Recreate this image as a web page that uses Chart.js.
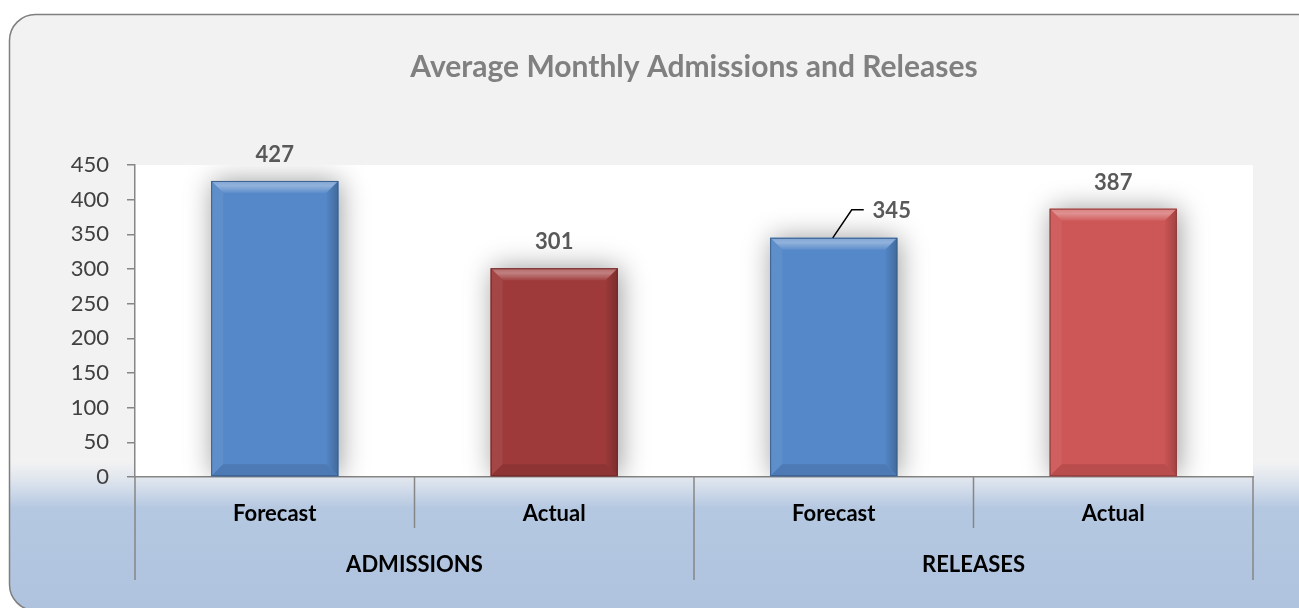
<!DOCTYPE html>
<html>
<head>
<meta charset="utf-8">
<script src="https://cdn.jsdelivr.net/npm/chart.js@4.4.1/dist/chart.umd.min.js"></script>
<style>
  html, body { margin: 0; padding: 0; background: #ffffff; }
  #chart { display: block; }
</style>
</head>
<body>
<canvas id="chart" width="1299" height="608"></canvas>
<script>
// Average Monthly Admissions and Releases - bar chart with two-level category axis

const chartTitle = 'Average Monthly Admissions and Releases';
const groups = ['ADMISSIONS', 'RELEASES'];
const groupSizes = [2, 2];
const categories = ['Forecast', 'Actual', 'Forecast', 'Actual'];
const values = [427, 301, 345, 387];
const yTickValues = [0, 50, 100, 150, 200, 250, 300, 350, 400, 450];

const barColors = ['#5588c8', '#9e3a3a', '#5588c8', '#cd5656'];
const FONT = 'Lato, "Open Sans", sans-serif';

// lighten / darken a hex colour
function shade(hex, amt) {
  const n = parseInt(hex.slice(1), 16);
  let r = (n >> 16) & 255, g = (n >> 8) & 255, b = n & 255;
  const f = c => amt >= 0 ? Math.round(c + (255 - c) * amt) : Math.round(c * (1 + amt));
  return `rgb(${f(r)},${f(g)},${f(b)})`;
}

// background panel, white plot area and title
const backgroundPlugin = {
  id: 'panel',
  beforeDraw(chart) {
    const { ctx, chartArea: a, height } = chart;
    ctx.save();
    const grad = ctx.createLinearGradient(0, 14, 0, height);
    const span = height - 14;
    grad.addColorStop(0, '#f2f2f2');
    grad.addColorStop((462 - 14) / span, '#f2f2f2');
    grad.addColorStop((480 - 14) / span, '#dfe5ee');
    grad.addColorStop((508 - 14) / span, '#b5c8e1');
    grad.addColorStop(1, '#afc3df');
    ctx.beginPath();
    ctx.roundRect(9.5, 14.5, 1320, 596, 26);
    ctx.fillStyle = grad;
    ctx.fill();
    ctx.lineWidth = 1.5;
    ctx.strokeStyle = '#7f7f7f';
    ctx.stroke();

    ctx.fillStyle = '#ffffff';
    ctx.fillRect(a.left, a.top, a.right - a.left, a.bottom - a.top);

    ctx.fillStyle = '#808080';
    ctx.font = 'bold 30px ' + FONT;
    ctx.textAlign = 'center';
    ctx.textBaseline = 'middle';
    ctx.fillText(chartTitle, (a.left + a.right) / 2, 67);
    ctx.restore();
  }
};

// soft glow behind the bars
const shadowPlugin = {
  id: 'barShadow',
  beforeDatasetDraw(chart) {
    const ctx = chart.ctx;
    ctx.save();
    ctx.shadowColor = 'rgba(0,0,0,0.4)';
    ctx.shadowBlur = 26;
    ctx.shadowOffsetX = 2;
    ctx.shadowOffsetY = 0;
  },
  afterDatasetDraw(chart) {
    chart.ctx.restore();
  }
};

// bevelled edges, value labels, category dividers and group labels
const decorPlugin = {
  id: 'decor',
  afterDatasetsDraw(chart, args, opts) {
    const { ctx, chartArea: a } = chart;
    const meta = chart.getDatasetMeta(0);
    const xs = chart.scales.x;
    const bv = 12;

    meta.data.forEach((bar, i) => {
      const w = bar.width;
      const l = bar.x - w / 2, r = bar.x + w / 2, t = bar.y, btm = bar.base;
      const c = barColors[i];
      ctx.save();
      // top bevel
      const tg = ctx.createLinearGradient(0, t, 0, t + bv);
      tg.addColorStop(0, shade(c, 0.25));
      tg.addColorStop(0.4, shade(c, 0.35));
      tg.addColorStop(1, shade(c, 0.05));
      ctx.fillStyle = tg;
      ctx.beginPath();
      ctx.moveTo(l, t); ctx.lineTo(r, t); ctx.lineTo(r - bv, t + bv); ctx.lineTo(l + bv, t + bv); ctx.closePath();
      ctx.fill();
      // left bevel
      ctx.fillStyle = shade(c, 0.06);
      ctx.beginPath();
      ctx.moveTo(l, t); ctx.lineTo(l + bv, t + bv); ctx.lineTo(l + bv, btm - bv); ctx.lineTo(l, btm); ctx.closePath();
      ctx.fill();
      // right bevel
      const rg = ctx.createLinearGradient(r - bv, 0, r, 0);
      rg.addColorStop(0, shade(c, -0.02));
      rg.addColorStop(1, shade(c, -0.22));
      ctx.fillStyle = rg;
      ctx.beginPath();
      ctx.moveTo(r, t); ctx.lineTo(r, btm); ctx.lineTo(r - bv, btm - bv); ctx.lineTo(r - bv, t + bv); ctx.closePath();
      ctx.fill();
      // bottom bevel
      ctx.fillStyle = shade(c, -0.1);
      ctx.beginPath();
      ctx.moveTo(l, btm); ctx.lineTo(r, btm); ctx.lineTo(r - bv, btm - bv); ctx.lineTo(l + bv, btm - bv); ctx.closePath();
      ctx.fill();
      // outline
      ctx.strokeStyle = shade(c, -0.3);
      ctx.lineWidth = 1;
      ctx.strokeRect(l + 0.5, t + 0.5, w - 1, btm - t - 1);
      ctx.restore();

      // value label
      const off = (opts.labelOffsets || {})[i];
      ctx.save();
      ctx.font = 'bold 22px ' + FONT;
      ctx.fillStyle = '#595959';
      ctx.textAlign = 'center';
      ctx.textBaseline = 'middle';
      if (off) {
        const lx = bar.x + off.dx, ly = t + off.dy;
        ctx.fillText(String(values[i]), lx, ly);
        ctx.strokeStyle = '#000000';
        ctx.lineWidth = 1.5;
        ctx.beginPath();
        ctx.moveTo(bar.x - 1, t);
        ctx.lineTo(bar.x + 18, t - 28);
        ctx.lineTo(bar.x + 30, t - 28);
        ctx.stroke();
      } else {
        ctx.fillText(String(values[i]), bar.x, t - 26);
      }
      ctx.restore();
    });

    // category axis dividers and group labels
    ctx.save();
    ctx.strokeStyle = '#868686';
    ctx.lineWidth = 1.5;
    const px = i => xs.getPixelForValue(i);
    const step = px(1) - px(0);
    const line = (x, y2) => { ctx.beginPath(); ctx.moveTo(x, a.bottom); ctx.lineTo(x, y2); ctx.stroke(); };
    line(a.left, 580);
    let idx = 0;
    ctx.font = 'bold 22px ' + FONT;
    ctx.fillStyle = '#000000';
    ctx.textAlign = 'center';
    ctx.textBaseline = 'middle';
    groups.forEach((g, gi) => {
      const n = groupSizes[gi];
      for (let k = 1; k < n; k++) line(px(idx + k) - step / 2, 528);
      const gx = (px(idx) + px(idx + n - 1)) / 2;
      ctx.fillText(g, gx, 565);
      idx += n;
      line(px(idx - 1) + step / 2, 580);
    });
    ctx.restore();
  }
};

new Chart(document.getElementById('chart'), {
  type: 'bar',
  data: {
    labels: categories,
    datasets: [{
      data: values,
      backgroundColor: barColors,
      borderWidth: 0,
      categoryPercentage: 1,
      barPercentage: 0.455
    }]
  },
  options: {
    responsive: false,
    animation: false,
    layout: { padding: { left: 10, right: 46, top: 165, bottom: 0 } },
    plugins: {
      legend: { display: false },
      tooltip: { enabled: false },
      title: { display: false },
      decor: { labelOffsets: { 2: { dx: 58, dy: -27 } } }
    },
    scales: {
      x: {
        offset: true,
        grid: { display: false },
        border: { display: true, color: '#868686', width: 1.5 },
        ticks: {
          color: '#000000',
          font: { family: FONT, size: 22, weight: 'bold' },
          padding: 16,
          maxRotation: 0
        },
        afterFit(scale) { scale.height = 131; }
      },
      y: {
        min: 0,
        max: 450,
        afterBuildTicks(scale) { scale.ticks = yTickValues.map(v => ({ value: v })); },
        grid: {
          drawOnChartArea: false,
          drawTicks: true,
          tickLength: 8,
          color: '#868686',
          lineWidth: 1.5
        },
        border: { display: true, color: '#868686', width: 1.5 },
        ticks: {
          color: '#404040',
          font: { family: FONT, size: 22 },
          padding: 18
        },
        afterFit(scale) { scale.width = 125; }
      }
    }
  },
  plugins: [backgroundPlugin, shadowPlugin, decorPlugin]
});
</script>
</body>
</html>
